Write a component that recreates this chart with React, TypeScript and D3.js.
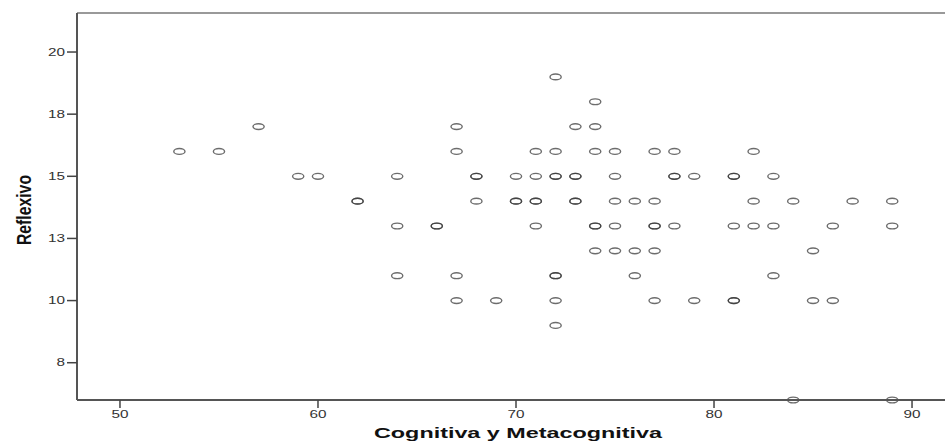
import React, { useEffect, useRef } from 'react';
import * as d3 from 'd3';

// x = Cognitiva y Metacognitiva, y = Reflexivo (pairs repeated where the marker is darker)
const xValues = [
  72,
  74,
  57, 67, 73, 74,
  53, 55, 67, 71, 72, 74, 75, 77, 78, 82,
  59, 60, 64, 68, 68, 70, 71, 72, 72, 73, 73, 75, 78, 78, 79, 81, 81, 83,
  62, 62, 68, 70, 70, 71, 71, 73, 73, 75, 76, 77, 82, 84, 87, 89,
  64, 66, 66, 71, 74, 74, 75, 77, 77, 78, 81, 82, 83, 86, 89,
  74, 75, 76, 77, 85,
  64, 67, 72, 72, 76, 83,
  67, 69, 72, 77, 79, 81, 81, 85, 86,
  72,
  84, 89,
];
const yValues = [
  19,
  18,
  17, 17, 17, 17,
  16, 16, 16, 16, 16, 16, 16, 16, 16, 16,
  15, 15, 15, 15, 15, 15, 15, 15, 15, 15, 15, 15, 15, 15, 15, 15, 15, 15,
  14, 14, 14, 14, 14, 14, 14, 14, 14, 14, 14, 14, 14, 14, 14, 14,
  13, 13, 13, 13, 13, 13, 13, 13, 13, 13, 13, 13, 13, 13, 13,
  12, 12, 12, 12, 12,
  11, 11, 11, 11, 11, 11,
  10, 10, 10, 10, 10, 10, 10, 10, 10,
  9,
  6, 6,
];

const xTicks = [50, 60, 70, 80, 90];
const yTicks = [7.5, 10, 12.5, 15, 17.5, 20];
const yTickLabels = ['8', '10', '13', '15', '18', '20'];

const xTitle = 'Cognitiva y Metacognitiva';
const yTitle = 'Reflexivo';

const width = 945;
const height = 441;

const App = () => {
  const svgRef = useRef<SVGSVGElement>(null);

  useEffect(() => {
    const svg = d3.select(svgRef.current);
    svg.selectAll('*').remove();

    const margin = { top: 13, right: -10, bottom: 41, left: 77 };
    const x = d3.scaleLinear().domain([47.83, 92.17]).range([margin.left, width - margin.right]);
    const y = d3.scaleLinear().domain([6, 21.57]).range([height - margin.bottom, margin.top]);

    const font = '"Liberation Sans", Arial, sans-serif';
    // tick labels in the original are drawn wide, about 8.5px per digit
    const digitW = 8.5;

    // frame
    svg.append('line')
      .attr('x1', margin.left).attr('x2', width + 10)
      .attr('y1', margin.top).attr('y2', margin.top)
      .attr('stroke', '#777').attr('stroke-width', 1.5);

    // points
    const data = xValues.map((v, i) => ({ x: v, y: yValues[i] }));
    svg.append('g')
      .selectAll('ellipse')
      .data(data)
      .join('ellipse')
      .attr('cx', d => x(d.x))
      .attr('cy', d => y(d.y))
      .attr('rx', 5.6)
      .attr('ry', 2.9)
      .attr('fill', 'none')
      .attr('stroke', '#333')
      .attr('stroke-opacity', 0.72)
      .attr('stroke-width', 1.4);

    // y axis
    const yAxis = svg.append('g').attr('transform', `translate(${margin.left},0)`);
    yAxis.append('line')
      .attr('y1', margin.top).attr('y2', height - margin.bottom)
      .attr('stroke', '#555').attr('stroke-width', 2);
    yTicks.forEach((t, i) => {
      const label = yTickLabels[i];
      yAxis.append('line')
        .attr('x1', -10).attr('x2', 0)
        .attr('y1', y(t)).attr('y2', y(t))
        .attr('stroke', '#444').attr('stroke-width', 1.5);
      yAxis.append('text')
        .attr('x', -12 - digitW * label.length).attr('y', y(t) + 3.6)
        .attr('font-family', font).attr('font-size', 10)
        .attr('textLength', digitW * label.length).attr('lengthAdjust', 'spacingAndGlyphs')
        .attr('fill', '#333')
        .text(label);
    });

    // x axis
    const xAxis = svg.append('g').attr('transform', `translate(0,${height - margin.bottom})`);
    xAxis.append('line')
      .attr('x1', margin.left).attr('x2', width + 10)
      .attr('stroke', '#555').attr('stroke-width', 2);
    xTicks.forEach(t => {
      const label = String(t);
      xAxis.append('line')
        .attr('x1', x(t)).attr('x2', x(t))
        .attr('y1', 0).attr('y2', 8)
        .attr('stroke', '#444').attr('stroke-width', 1.5);
      xAxis.append('text')
        .attr('x', x(t) - (digitW * label.length) / 2).attr('y', 18)
        .attr('font-family', font).attr('font-size', 10)
        .attr('textLength', digitW * label.length).attr('lengthAdjust', 'spacingAndGlyphs')
        .attr('fill', '#333')
        .text(label);
    });

    // titles
    svg.append('text')
      .attr('x', 374).attr('y', 438)
      .attr('font-family', font).attr('font-size', 14.5).attr('font-weight', 'bold')
      .attr('textLength', 288).attr('lengthAdjust', 'spacingAndGlyphs')
      .attr('fill', '#111')
      .text(xTitle);

    svg.append('text')
      .attr('transform', `translate(31,${210}) rotate(-90)`)
      .attr('text-anchor', 'middle')
      .attr('font-family', '"Liberation Sans Narrow", ' + font)
      .attr('font-size', 20).attr('font-weight', 'bold')
      .attr('textLength', 70).attr('lengthAdjust', 'spacingAndGlyphs')
      .attr('fill', '#111')
      .text(yTitle);
  }, []);

  return (
    <svg
      ref={svgRef}
      width={width}
      height={height}
      style={{ position: 'absolute', left: 0, top: 0, background: '#fff', display: 'block' }}
    />
  );
};

export default App;
